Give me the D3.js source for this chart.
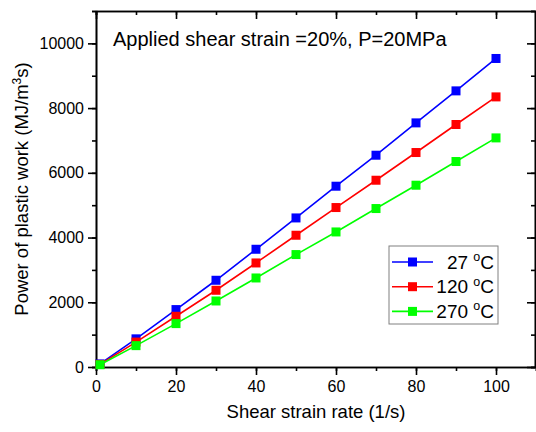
<!DOCTYPE html>
<html>
<head>
<meta charset="utf-8">
<script src="https://cdn.jsdelivr.net/npm/d3@7"></script>
<style>
  body { margin: 0; background: #fff; }
  svg { display: block; font-family: "Liberation Sans", Arial, sans-serif; }
  .axis path, .axis line { stroke: #000; stroke-width: 1.6px; }
  .axis text { font-size: 16px; fill: #000; }
</style>
</head>
<body>
<div id="chart"></div>
<script>
// Data
var strainRates = [1, 10, 20, 30, 40, 50, 60, 70, 80, 90, 100];
var power27 = [95, 870, 1774, 2680, 3638, 4606, 5586, 6544, 7543, 8532, 9533];
var power120 = [80, 770, 1567, 2371, 3215, 4071, 4927, 5771, 6627, 7493, 8346];
var power270 = [70, 660, 1341, 2040, 2751, 3474, 4173, 4896, 5617, 6349, 7079];
var seriesNames = ['27', '120', '270'];
var seriesColors = ['#0000ff', '#ff0000', '#00ff00'];
var xTicks = [0, 20, 40, 60, 80, 100];
var yTicks = [0, 2000, 4000, 6000, 8000, 10000];

var width = 536, height = 432,
    margin = {top: 11, right: 0, bottom: 65, left: 96},
    innerW = width - margin.left - margin.right,
    innerH = height - margin.top - margin.bottom;

var svg = d3.select('#chart').append('svg')
    .attr('width', width)
    .attr('height', height);

var g = svg.append('g')
    .attr('transform', 'translate(' + margin.left + ',' + margin.top + ')');

var x = d3.scaleLinear().domain([0, 110]).range([0, innerW]);
var y = d3.scaleLinear().domain([0, 11000]).range([innerH, 0]);

var xMinor = d3.range(0, 111, 10);
var yMinor = d3.range(0, 11001, 1000);
var fmt = d3.format('d');

// minor ticks first
g.append('g').attr('class', 'axis')
  .attr('transform', 'translate(0,' + innerH + ')')
  .call(d3.axisBottom(x).tickValues(xMinor).tickSize(4).tickFormat(''));
g.append('g').attr('class', 'axis')
  .call(d3.axisLeft(y).tickValues(yMinor).tickSize(4).tickFormat(''));
g.append('g').attr('class', 'axis')
  .call(d3.axisTop(x).tickValues(xMinor).tickSize(-4).tickFormat(''));
g.append('g').attr('class', 'axis')
  .attr('transform', 'translate(' + (innerW - 1) + ',0)')
  .call(d3.axisRight(y).tickValues(yMinor).tickSize(-4).tickFormat(''));

// major ticks
g.append('g').attr('class', 'axis')
  .attr('transform', 'translate(0,' + innerH + ')')
  .call(d3.axisBottom(x).tickValues(xTicks).tickSize(8).tickPadding(6).tickSizeOuter(0).tickFormat(fmt));
g.append('g').attr('class', 'axis')
  .call(d3.axisLeft(y).tickValues(yTicks).tickSize(8).tickPadding(4).tickSizeOuter(0).tickFormat(fmt));
g.append('g').attr('class', 'axis')
  .call(d3.axisTop(x).tickValues(xTicks).tickSize(-8).tickFormat('').tickSizeOuter(0));
g.append('g').attr('class', 'axis')
  .attr('transform', 'translate(' + (innerW - 1) + ',0)')
  .call(d3.axisRight(y).tickValues(yTicks).tickSize(-8).tickFormat('').tickSizeOuter(0));

// series
var allSeries = [power27, power120, power270];
var line = d3.line()
  .x(function(d, i) { return x(strainRates[i]); })
  .y(function(d) { return y(d); });

allSeries.forEach(function(values, k) {
  g.append('path')
    .datum(values)
    .attr('fill', 'none')
    .attr('stroke', seriesColors[k])
    .attr('stroke-width', 1.6)
    .attr('d', line);
  g.selectAll('.m' + k)
    .data(values)
    .enter().append('rect')
      .attr('class', 'm' + k)
      .attr('x', function(d, i) { return x(strainRates[i]) - 4.5; })
      .attr('y', function(d) { return y(d) - 4.5; })
      .attr('width', 9)
      .attr('height', 9)
      .attr('fill', seriesColors[k]);
});

// annotation
g.append('text')
  .attr('x', 17)
  .attr('y', 35)
  .attr('font-size', 20)
  .text('Applied shear strain =20%, P=20MPa');

// axis titles
svg.append('text')
  .attr('x', margin.left + x(55))
  .attr('y', 418)
  .attr('text-anchor', 'middle')
  .attr('font-size', 18.5)
  .text('Shear strain rate (1/s)');

var yt = svg.append('text')
  .attr('transform', 'translate(28,' + (margin.top + innerH / 2) + ') rotate(-90)')
  .attr('text-anchor', 'middle')
  .attr('font-size', 18.5);
yt.append('tspan').text('Power of plastic work (MJ/m');
yt.append('tspan').attr('font-size', 12).attr('dy', -7).text('3');
yt.append('tspan').attr('dy', 7).text('s)');

// legend
var lg = svg.append('g').attr('transform', 'translate(389,246)');
lg.append('rect')
  .attr('width', 109)
  .attr('height', 78)
  .attr('fill', '#fff')
  .attr('stroke', '#808080')
  .attr('stroke-width', 1);

seriesNames.forEach(function(name, k) {
  var ry = 16 + k * 24.7;
  lg.append('line')
    .attr('x1', 3).attr('x2', 44)
    .attr('y1', ry).attr('y2', ry)
    .attr('stroke', seriesColors[k])
    .attr('stroke-width', 1.6);
  lg.append('rect')
    .attr('x', 23.5 - 4.5).attr('y', ry - 4.5)
    .attr('width', 9).attr('height', 9)
    .attr('fill', seriesColors[k]);
  var t = lg.append('text')
    .attr('x', 105)
    .attr('y', ry + 6.5)
    .attr('text-anchor', 'end')
    .attr('font-size', 19);
  t.append('tspan').text(name + ' ');
  t.append('tspan').attr('font-size', 12.5).attr('dy', -7.5).text('o');
  t.append('tspan').attr('dy', 7.5).text('C');
});
</script>
</body>
</html>
